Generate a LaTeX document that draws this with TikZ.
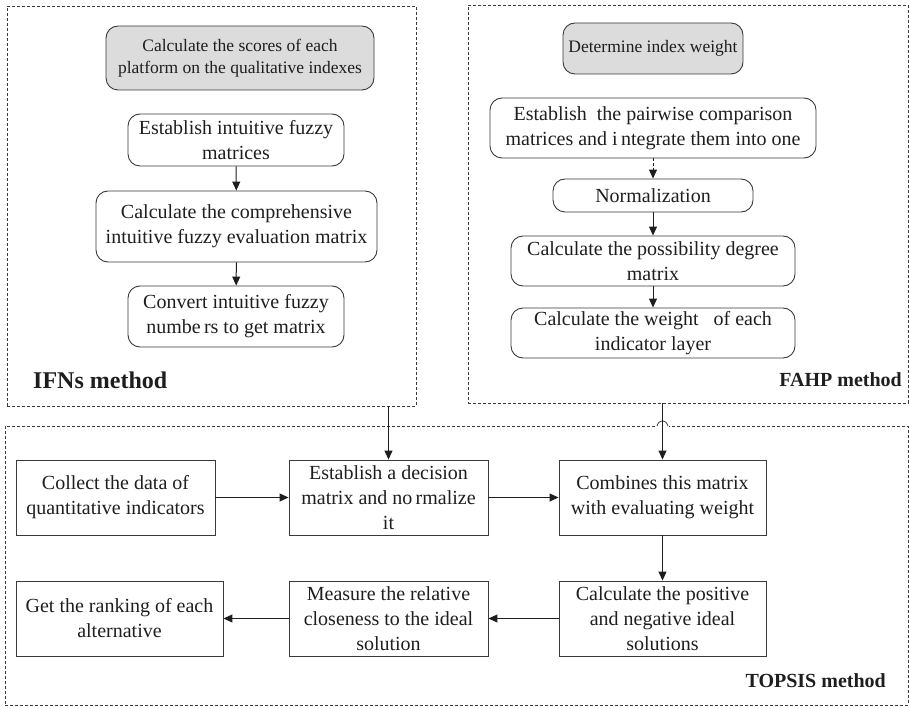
\documentclass[tikz,border=0pt]{standalone}
\usepackage{fontspec}
\setmainfont{Liberation Serif}
\usetikzlibrary{arrows.meta}
\definecolor{ink}{HTML}{1E1E1E}
\definecolor{edge}{HTML}{3A3A3A}
\definecolor{grayfill}{HTML}{DCDCDC}
\begin{document}
\begin{tikzpicture}[x=1pt,y=-1pt,
  every node/.style={text=ink},
  container/.style={draw=edge, line width=0.8pt, dash pattern=on 3pt off 2pt, minimum width=#1},
  graybox/.style={draw=edge, line width=0.9pt, fill=grayfill, rounded corners=12pt, align=center,
     inner sep=0pt, font=\fontsize{17.5}{22}\selectfont},
  roundbox/.style={draw=edge, line width=0.9pt, rounded corners=12pt, align=center,
     inner sep=0pt, font=\fontsize{20}{25}\selectfont},
  sqbox/.style={draw=edge, line width=0.9pt, align=center,
     inner sep=0pt, font=\fontsize{20}{25}\selectfont},
  arr/.style={draw=ink, line width=1pt, -{Triangle[length=9pt,width=8pt]}},
  title/.style={font=\fontsize{20}{24}\selectfont\bfseries, inner sep=0pt}
]
\useasboundingbox (0,0) rectangle (909,708);

% containers
\node[container=409pt, minimum height=400pt] (ifn) at (211.5,206) {};
\node[container=440pt, minimum height=398pt] (fahp) at (688,204) {};
\node[container=903pt, minimum height=279pt] (topsis) at (456.5,565.5) {};

% IFNs
\node[graybox, minimum width=268pt, minimum height=64pt] (g1) at (240,58)
  {Calculate the scores of each\\platform on the qualitative indexes};
\node[roundbox, minimum width=216pt, minimum height=52pt] (i1) at (236,140)
  {Establish intuitive fuzzy\\matrices};
\node[roundbox, minimum width=281pt, minimum height=71pt] (i2) at (236.5,226.5)
  {Calculate the comprehensive\\intuitive fuzzy evaluation matrix};
\node[roundbox, minimum width=216pt, minimum height=61pt] (i3) at (236,316.5)
  {Convert intuitive fuzzy\\numbe\,rs to get matrix};
\node[title, font=\fontsize{24}{28}\selectfont\bfseries, anchor=west] (ifnlab) at (33,380) {IFNs method};

\draw[arr] (i1) -- (i2);
\draw[arr] (i2) -- (i3);

% FAHP
\node[graybox, minimum width=180pt, minimum height=51pt] (g2) at (653,48.5)
  {Determine index weight};
\node[roundbox, minimum width=326pt, minimum height=60pt] (f1) at (653,128)
  {Establish \ the pairwise comparison\\matrices and i\,ntegrate them into one};
\node[roundbox, minimum width=200pt, minimum height=33pt] (f2) at (653,195.5)
  {Normalization};
\node[roundbox, minimum width=284pt, minimum height=50pt] (f3) at (653,261)
  {Calculate the possibility degree\\matrix};
\node[roundbox, minimum width=284pt, minimum height=50pt] (f4) at (653,333)
  {Calculate the weight \ \ of each\\indicator layer};
\node[title, anchor=east] (fahplab) at (902,380) {FAHP method};

\draw[arr, dash pattern=on 3pt off 2pt] (f1) -- (f2);
\draw[arr] (f2) -- (f3);
\draw[arr] (f3) -- (f4);

% TOPSIS
\node[sqbox, minimum width=199pt, minimum height=75pt] (t1) at (115.5,497.5)
  {Collect the data of\\quantitative indicators};
\node[sqbox, minimum width=199pt, minimum height=75pt] (t2) at (388.5,497.5)
  {Establish a decision\\matrix and no\,rmalize\\it};
\node[sqbox, minimum width=207pt, minimum height=75pt] (t3) at (662.5,497.5)
  {Combines this matrix\\with evaluating weight};
\node[sqbox, minimum width=207pt, minimum height=75pt] (t4) at (662.5,618.5)
  {Calculate the positive\\and negative ideal\\solutions};
\node[sqbox, minimum width=199pt, minimum height=75pt] (t5) at (388.5,618.5)
  {Measure the relative\\closeness to the ideal\\solution};
\node[sqbox, minimum width=207pt, minimum height=75pt] (t6) at (119.5,618.5)
  {Get the ranking of each\\alternative};
\node[title, anchor=east] (toplab) at (886,681) {TOPSIS method};

\draw[arr] (t1) -- (t2);
\draw[arr] (t2) -- (t3);
\draw[arr] (t3) -- (t4);
\draw[arr] (t4) -- (t5);
\draw[arr] (t5) -- (t6);

% line hop on the TOPSIS border
\fill[white] (656.5,424) rectangle (668.5,428);
\draw[edge, line width=0.8pt] (657,426) .. controls (659,419) and (666,419) .. (668,426);

\draw[arr] (ifn.south -| t2.north) -- (t2.north);
\draw[arr] (fahp.south -| t3.north) -- (t3.north);
\end{tikzpicture}
\end{document}
